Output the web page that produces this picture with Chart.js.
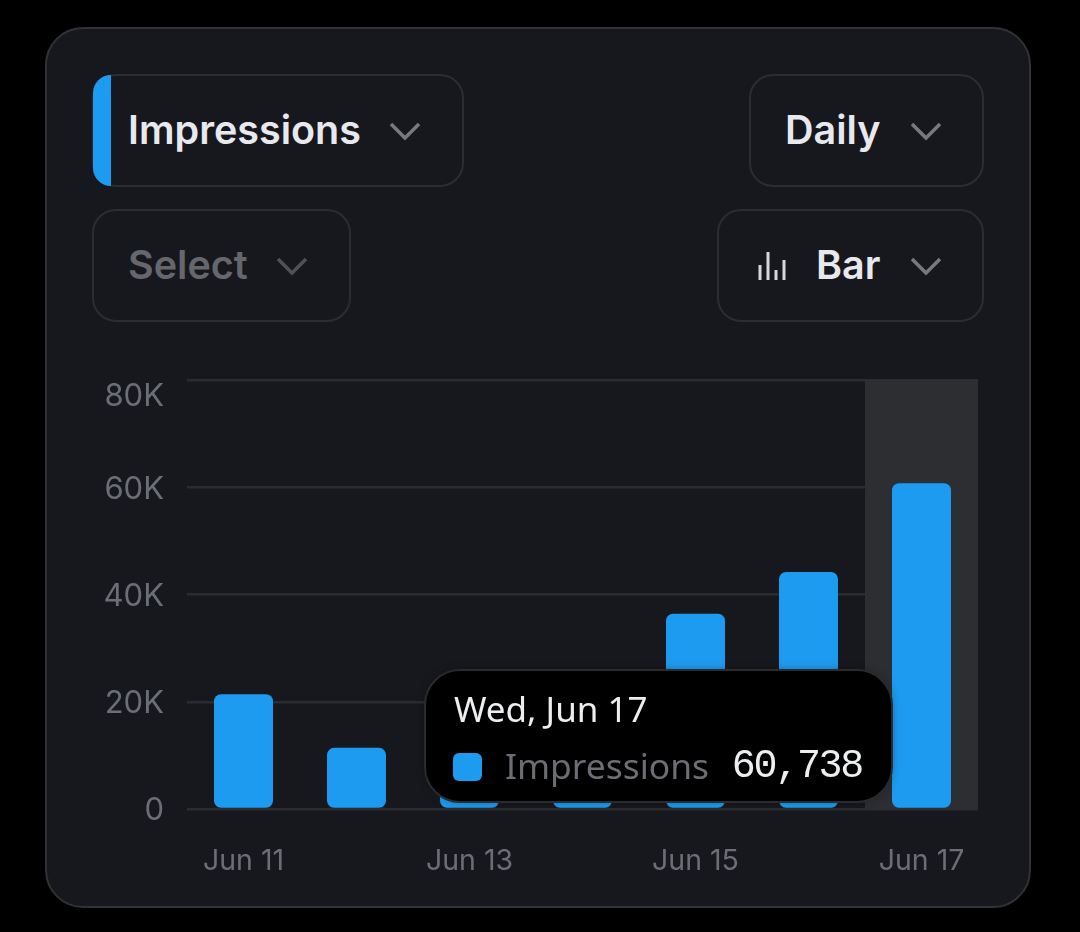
<!DOCTYPE html>
<html>
<head>
<meta charset="utf-8">
<title>Impressions</title>
<script src="https://cdn.jsdelivr.net/npm/chart.js@4"></script>
<style>
    html, body { margin: 0; width: 1080px; height: 932px; background: #000; overflow: hidden; }
    body { font-family: Inter, sans-serif; position: relative; }
    .card { position: absolute; left: 45px; top: 27px; width: 982px; height: 877px; background: #17181d; border: 2px solid #303236; border-radius: 38px; }
    .drop { position: absolute; box-sizing: border-box; height: 113px; border: 2px solid #2b2d31; border-radius: 24px; color: #e7e9ee; font-size: 39.5px; font-weight: 600; line-height: 109px; }
    .drop span { position: absolute; top: 0; white-space: nowrap; }
    .drop svg { position: absolute; }
    .drop.muted { color: #65676d; }
    .strip { position: absolute; left: 93px; top: 75px; width: 18px; height: 111px; background: #1d9bf0; border-radius: 23px 0 0 23px; }
    #chart { position: absolute; left: 90px; top: 370px; }
    #tip { position: absolute; left: 424px; top: 669px; box-sizing: border-box; width: 469px; height: 134px; background: #000; border: 2px solid #2a2b2f; border-radius: 36px; box-shadow: 0 0 8px rgba(0,0,0,.25); }
    #tip div { position: absolute; white-space: nowrap; }
    #tipTitle { left: 28px; top: 14px; font: 35px "Noto Sans", sans-serif; color: #eceef0; }
    #tipSwatch { left: 27px; top: 82px; width: 29px; height: 28px; border-radius: 6px; }
    #tipLabel { left: 79px; top: 70px; font: 35.4px "Noto Sans", sans-serif; color: #6c6e74; }
    #tipValue { right: 29px; top: 73px; font: 40px "Liberation Mono", monospace; letter-spacing: -2.3px; color: #eceef0; }
</style>
</head>
<body>
<div class="card"></div>

<div class="drop" style="left:92px;top:74px;width:372px">
    <span style="left:34px">Impressions</span>
    <svg style="left:295px;top:46px" width="34" height="20"><polyline points="2,2 16,16 30,2" fill="none" stroke="#77797e" stroke-width="3.5"/></svg>
</div>
<div class="strip"></div>
<div class="drop" style="left:749px;top:74px;width:235px">
    <span style="left:34px">Daily</span>
    <svg style="left:160px;top:46px" width="34" height="20"><polyline points="1,2 15,16 29,2" fill="none" stroke="#77797e" stroke-width="3.5"/></svg>
</div>
<div class="drop muted" style="left:92px;top:209px;width:259px">
    <span style="left:34px">Select</span>
    <svg style="left:182px;top:46px" width="34" height="20"><polyline points="2,2 16,16 30,2" fill="none" stroke="#4f5156" stroke-width="3.5"/></svg>
</div>
<div class="drop" style="left:717px;top:209px;width:267px">
    <svg style="left:39px;top:39px" width="28" height="32"><path d="M2 15v15M10 2v28M18 20v10M26 10v20" fill="none" stroke="#d5d7dc" stroke-width="3"/></svg>
    <span style="left:97px">Bar</span>
    <svg style="left:192px;top:46px" width="34" height="20"><polyline points="1,2 15,16 29,2" fill="none" stroke="#77797e" stroke-width="3.5"/></svg>
</div>

<canvas id="chart" width="890" height="520"></canvas>

<div id="tip">
    <div id="tipTitle"></div>
    <div id="tipSwatch"></div>
    <div id="tipLabel"></div>
    <div id="tipValue"></div>
</div>

<script>
const days = ['Jun 11', 'Jun 12', 'Jun 13', 'Jun 14', 'Jun 15', 'Jun 16', 'Jun 17'];
const longDays = ['Thu, Jun 11', 'Fri, Jun 12', 'Sat, Jun 13', 'Sun, Jun 14', 'Mon, Jun 15', 'Tue, Jun 16', 'Wed, Jun 17'];
const impressions = [21400, 11400, 14000, 18000, 36400, 44200, 60738];
const yTickLabels = ['0', '20K', '40K', '60K', '80K'];
const xTickEvery = 2;
const activeDay = 6;

const BLUE = '#1d9bf0';
const TICK_GREY = '#6b6e74';

// band behind the hovered day
const hoverBand = {
    id: 'hoverBand',
    beforeDatasetsDraw(chart) {
        const active = chart.getActiveElements()[0];
        if (!active) return;
        const { ctx, chartArea, scales } = chart;
        const step = scales.x.getPixelForValue(1) - scales.x.getPixelForValue(0);
        const center = scales.x.getPixelForValue(active.index);
        ctx.save();
        ctx.fillStyle = '#2d2e32';
        ctx.fillRect(center - step / 2, chartArea.top, step, chartArea.height);
        ctx.restore();
    }
};

// y labels sit a touch low, and the top one stays inside the plot
const yLabelNudge = {
    id: 'yLabelNudge',
    afterLayout(chart) {
        const items = chart.scales.y.getLabelItems(chart.chartArea);
        items.forEach(item => { item.options.translation[1] += 2; });
        items[items.length - 1].options.translation[1] += 15;
    }
};

// labels may overhang the plot, so scales ask for no extra room
function noLabelPadding(scale) {
    scale.paddingLeft = scale.paddingRight = scale.paddingTop = scale.paddingBottom = 0;
}

function drawTip(context) {
    const tip = context.tooltip;
    if (!tip.dataPoints || !tip.dataPoints.length) return;
    const point = tip.dataPoints[0];
    document.getElementById('tipTitle').textContent = longDays[point.dataIndex];
    document.getElementById('tipSwatch').style.background = point.dataset.backgroundColor;
    document.getElementById('tipLabel').textContent = point.dataset.label;
    document.getElementById('tipValue').textContent = point.raw.toLocaleString('en-US');
}

const chart = new Chart(document.getElementById('chart'), {
    type: 'bar',
    data: {
        labels: days,
        datasets: [{
            label: 'Impressions',
            data: impressions,
            backgroundColor: BLUE,
            hoverBackgroundColor: BLUE,
            borderRadius: 7,
            borderSkipped: false,
            barPercentage: 0.522,
            categoryPercentage: 1
        }]
    },
    options: {
        responsive: false,
        animation: false,
        events: [],
        layout: { padding: { top: 10, right: 2 } },
        plugins: {
            legend: { display: false },
            tooltip: { enabled: false, external: drawTip }
        },
        scales: {
            x: {
                grid: { display: false },
                border: { display: false },
                ticks: {
                    autoSkip: false,
                    maxRotation: 0,
                    padding: 27,
                    color: TICK_GREY,
                    font: { family: 'Inter', size: 28.5 },
                    callback(value, index) { return index % xTickEvery === 0 ? days[index] : ''; }
                },
                afterFit(scale) { scale.height = 81; noLabelPadding(scale); }
            },
            y: {
                min: 0,
                max: 80000,
                grid: { color: '#2a2c30', lineWidth: 2.5, drawTicks: false },
                border: { display: false },
                ticks: {
                    stepSize: 20000,
                    padding: 23,
                    color: TICK_GREY,
                    font: { family: 'Inter', size: 31 },
                    callback(value, index) { return yTickLabels[index]; }
                },
                afterFit(scale) { scale.width = 97; noLabelPadding(scale); }
            }
        }
    },
    plugins: [hoverBand, yLabelNudge]
});

chart.setActiveElements([{ datasetIndex: 0, index: activeDay }]);
chart.tooltip.setActiveElements([{ datasetIndex: 0, index: activeDay }], { x: 0, y: 0 });
chart.update();
</script>
</body>
</html>
